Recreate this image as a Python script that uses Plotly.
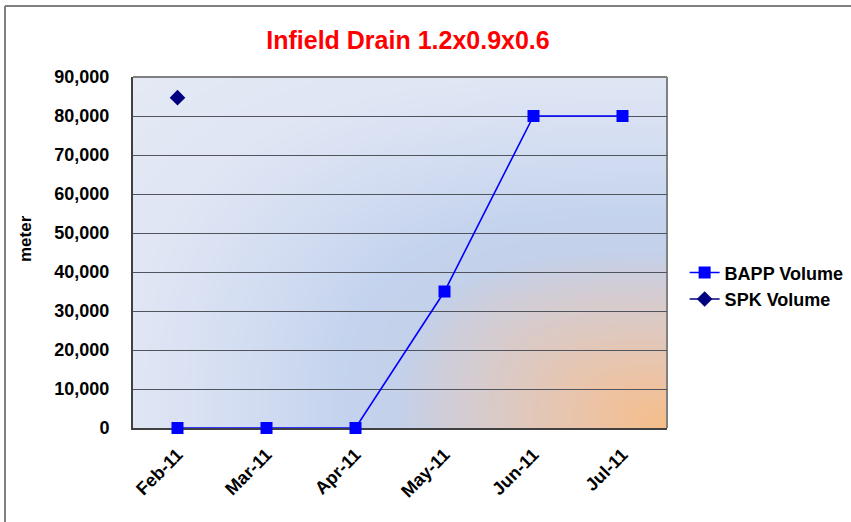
import base64, struct, zlib
import numpy as np
import plotly.graph_objects as go

# ---- data ----
categories = ["Feb-11", "Mar-11", "Apr-11", "May-11", "Jun-11", "Jul-11"]
bapp_volume = [0, 0, 0, 35000, 80000, 80000]
spk_volume = [84700, None, None, None, None, None]
y_ticks = [0, 10000, 20000, 30000, 40000, 50000, 60000, 70000, 80000, 90000]
y_tick_labels = ["0", "10,000", "20,000", "30,000", "40,000", "50,000",
                 "60,000", "70,000", "80,000", "90,000"]

# ---- gradient background image (style only) ----
def make_gradient(w=267, h=176):
    dx = (1 - np.linspace(0, 1, w))[None, :]      # distance from right edge
    dy = np.linspace(1, 0, h)[:, None]            # distance from bottom edge
    d = (dx ** 3 + dy ** 3) ** (1 / 3)
    stops = [0.00, 0.15, 0.30, 0.42, 0.50, 0.60, 0.80, 1.00, 1.30]
    cols = np.array([[246, 190, 138], [236, 196, 168], [221, 202, 196],
                     [208, 206, 218], [196, 209, 234], [196, 211, 238],
                     [212, 222, 242], [224, 230, 244], [230, 234, 246]], dtype=float)
    img = np.zeros((h, w, 3))
    for c in range(3):
        img[:, :, c] = np.interp(d, stops, cols[:, c])
    return img.astype(np.uint8)

def to_png_uri(arr):
    h, w, _ = arr.shape
    raw = b"".join(b"\x00" + arr[i].tobytes() for i in range(h))
    def chunk(t, data):
        c = struct.pack(">I", len(data)) + t + data
        return c + struct.pack(">I", zlib.crc32(t + data) & 0xFFFFFFFF)
    png = b"\x89PNG\r\n\x1a\n"
    png += chunk(b"IHDR", struct.pack(">IIBBBBB", w, h, 8, 2, 0, 0, 0))
    png += chunk(b"IDAT", zlib.compress(raw, 9))
    png += chunk(b"IEND", b"")
    return "data:image/png;base64," + base64.b64encode(png).decode()

bg_uri = to_png_uri(make_gradient())

FONT = "Liberation Sans, Arial, sans-serif"

fig = go.Figure()
fig.add_trace(go.Scatter(
    x=categories, y=bapp_volume, name="<b>BAPP Volume</b>", mode="lines+markers",
    line=dict(color="#0000FF", width=1.6), cliponaxis=False,
    marker=dict(symbol="square", size=12, color="#0000FF"),
))
fig.add_trace(go.Scatter(
    x=categories, y=spk_volume, name="<b>SPK Volume</b>", mode="lines+markers",
    line=dict(color="#000080", width=1.6), cliponaxis=False,
    marker=dict(symbol="diamond", size=12, color="#000080"),
))

L, T, R, B = 133, 77, 667, 428
W, H = 851, 522
pw, ph = R - L, B - T

fig.update_layout(
    width=W, height=H,
    margin=dict(l=L, r=W - R, t=T, b=H - B, pad=0, autoexpand=False),
    paper_bgcolor="white",
    plot_bgcolor="rgba(0,0,0,0)",
    font=dict(family=FONT, size=18, color="black"),
    title=dict(text="<b>Infield Drain 1.2x0.9x0.6</b>", x=408 / W, xanchor="center",
               y=1 - 40 / H, yanchor="middle",
               font=dict(family=FONT, size=25, color="#FF0000")),
    showlegend=True,
    legend=dict(x=1.033, y=0.405, xanchor="left", yanchor="middle",
                bgcolor="rgba(0,0,0,0)",
                font=dict(family=FONT, size=18, color="black"),
                tracegroupgap=0),
    images=[dict(source=bg_uri, xref="paper", yref="paper", x=0, y=1,
                 sizex=1, sizey=1, sizing="stretch", layer="below")],
    shapes=[
        dict(type="line", xref="paper", yref="paper",
             x0=(5 - L) / pw, x1=(5 - L) / pw, y0=-0.4, y1=(B - 6) / ph,
             line=dict(color="#808080", width=2)),
        dict(type="line", xref="paper", yref="paper",
             x0=(5 - L) / pw, x1=1.6, y0=(B - 6) / ph, y1=(B - 6) / ph,
             line=dict(color="#808080", width=2)),
        dict(type="line", xref="paper", yref="paper", x0=0, x1=1, y0=1, y1=1,
             line=dict(color="#808080", width=2), layer="below"),
        dict(type="line", xref="paper", yref="paper", x0=1, x1=1, y0=0, y1=1,
             line=dict(color="#808080", width=2), layer="below"),
    ],
    annotations=[dict(text="<b>meter</b>", xref="paper", yref="paper",
                      x=(25 - L) / pw, y=(B - 239) / ph, textangle=-90,
                      showarrow=False, xanchor="center", yanchor="middle",
                      font=dict(family=FONT, size=17, color="black"))],
)

fig.update_xaxes(
    type="category", range=[-0.5, 5.5],
    tickvals=categories, ticktext=[f"<b>{c}</b>" for c in categories],
    tickangle=-45, ticks="", ticklabelstandoff=7,
    tickfont=dict(family=FONT, size=18, color="black"),
    showgrid=False, showline=True, linecolor="#404040", linewidth=2,
    zeroline=False, layer="below traces",
)
fig.update_yaxes(
    range=[0, 90000], tickvals=y_ticks, ticktext=[f"<b>{t}</b>" for t in y_tick_labels],
    ticks="", ticklabelstandoff=18,
    tickfont=dict(family=FONT, size=18, color="black"),
    showgrid=True, gridcolor="#50555d", gridwidth=1.4,
    showline=True, linecolor="#404040", linewidth=2,
    zeroline=False, layer="below traces",
)

fig.write_html("out.html", config={"displayModeBar": False},
               post_script="document.body.style.margin='0';")
